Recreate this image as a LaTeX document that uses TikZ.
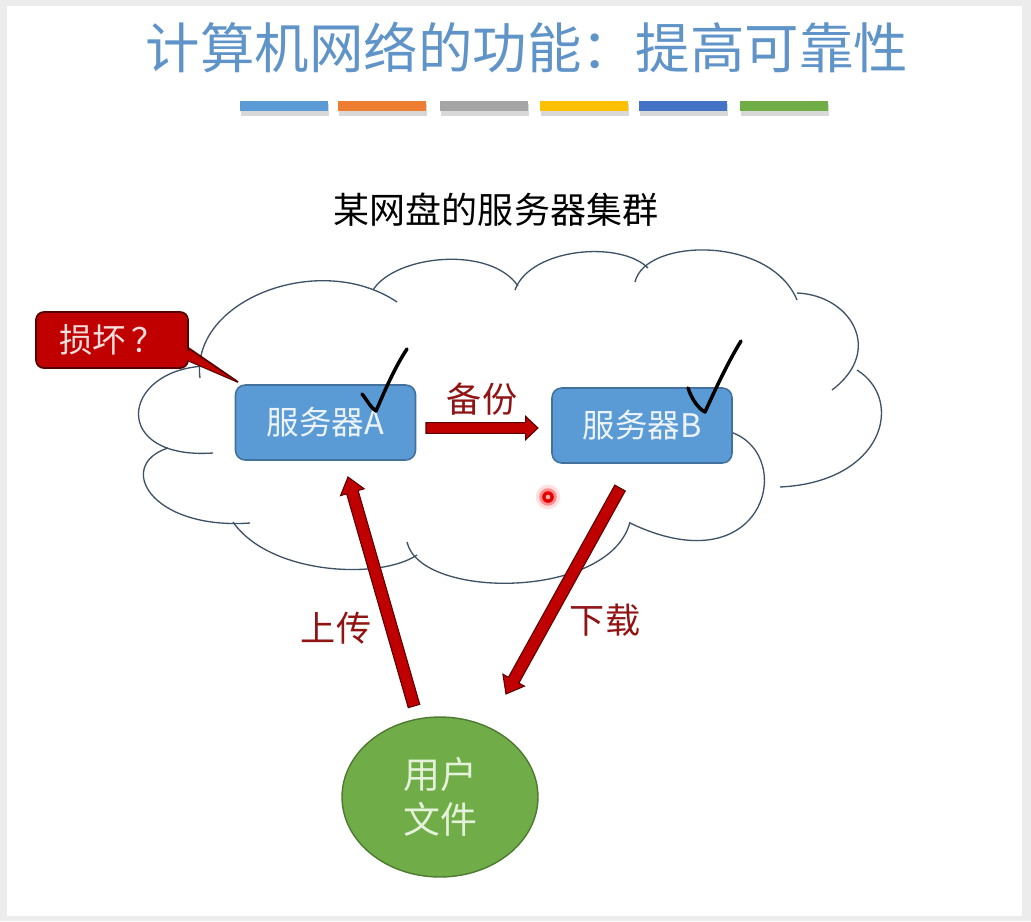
\documentclass[tikz,border=0pt]{standalone}
\usepackage{fontspec}
\setmainfont{Noto Sans CJK SC}
\usetikzlibrary{calc,shapes.geometric}
\definecolor{titleblue}{RGB}{96,148,200}
\definecolor{bar1}{RGB}{91,155,213}
\definecolor{bar2}{RGB}{237,125,49}
\definecolor{bar3}{RGB}{165,165,165}
\definecolor{bar4}{RGB}{255,192,0}
\definecolor{bar5}{RGB}{68,114,196}
\definecolor{bar6}{RGB}{112,173,71}
\definecolor{cloudline}{RGB}{62,82,102}
\definecolor{boxfill}{RGB}{91,155,213}
\definecolor{boxline}{RGB}{65,113,156}
\definecolor{boxtext}{RGB}{236,243,250}
\definecolor{callfill}{RGB}{192,0,0}
\definecolor{callline}{RGB}{85,0,0}
\definecolor{calltext}{RGB}{245,222,220}
\definecolor{arrowline}{RGB}{90,0,0}
\definecolor{labelred}{RGB}{145,20,20}
\definecolor{userfill}{RGB}{112,172,72}
\definecolor{userline}{RGB}{78,122,48}
\definecolor{usertext}{RGB}{228,242,218}
\definecolor{framegray}{RGB}{236,236,236}
\newcommand{\blockarr}[5]{%
  \coordinate (ba-h) at ($(#2)!#5!(#1)$);
  \filldraw[arrowbody] ($(#1)!#3!90:(#2)$) -- ($(ba-h)!#3!90:(#2)$) -- ($(ba-h)!#4!90:(#2)$) -- (#2) -- ($(ba-h)!#4!-90:(#2)$) -- ($(ba-h)!#3!-90:(#2)$) -- ($(#1)!#3!-90:(#2)$) -- cycle;
}
\tikzset{
  titletext/.style={text=titleblue, font=\fontsize{31}{38}\selectfont, inner sep=0pt},
  subtext/.style={text=black, font=\fontsize{20.5}{24}\selectfont, inner sep=0pt},
  cloudarc/.style={draw=cloudline, line width=0.75pt},
  server/.style={rectangle, rounded corners=5.5pt, fill=boxfill, draw=boxline, line width=0.9pt,
    minimum width=3.6cm, minimum height=1.5cm, inner sep=0pt, text=boxtext, font=\fontsize{18.5}{22}\selectfont},
  callbox/.style={rectangle, rounded corners=4.5pt, fill=callfill, draw=callline, line width=1pt,
    minimum width=3.04cm, minimum height=1.12cm, inner sep=0pt, text=calltext, font=\fontsize{19}{22}\selectfont},
  calltail/.style={fill=callfill, draw=callline, line width=1pt, line join=miter},
  checkmark/.style={draw=black, line width=2pt, line cap=round, line join=round},
  arrowbody/.style={fill=callfill, draw=arrowline, line width=0.6pt, line join=miter},
  lbl/.style={text=labelred, font=\fontsize{20}{24}\selectfont, inner sep=0pt},
  userell/.style={ellipse, fill=userfill, draw=userline, line width=0.8pt, minimum width=3.92cm,
    minimum height=3.2cm, inner sep=0pt, align=center, text=usertext, font=\fontsize{21}{26}\selectfont},
}
\begin{document}
\begin{tikzpicture}[x=0.02cm,y=-0.02cm]
\useasboundingbox (0,0) rectangle (1031,921);
\fill[framegray] (0,0) rectangle (1031,921);
\fill[white] (7,6) rectangle (1022,916);

% title and colour bars
\node[titletext] (title) at (527,47) {计算机网络的功能：提高可靠性};
\foreach \x/\c in {240/bar1,338/bar2,440/bar3,540/bar4,639/bar5,740/bar6}{
  \fill[black!15] (\x+1,104) rectangle (\x+89,116);
  \fill[\c] (\x,101) rectangle (\x+88,111);
}

\node[subtext] (sub) at (496,210) {某网盘的服务器集群};

% cloud
\draw[cloudarc] (200,378) .. controls (190,300) and (320,250) .. (397,302);
\draw[cloudarc] (373,290) .. controls (395,255) and (490,245) .. (518,286);
\draw[cloudarc] (515,290) .. controls (530,248) and (620,240) .. (648,268);
\draw[cloudarc] (635,282) .. controls (645,238) and (770,235) .. (797,300);
\draw[cloudarc] (797,293) .. controls (850,295) and (885,350) .. (832,390);
\draw[cloudarc] (857,370) .. controls (905,400) and (884,482) .. (780,487);
\draw[cloudarc] (723,430) .. controls (800,445) and (770,590) .. (630,523);
\draw[cloudarc] (630,522) .. controls (610,600) and (420,600) .. (407,542);
\draw[cloudarc] (417,555) .. controls (380,580) and (270,575) .. (233,522);
\draw[cloudarc] (168,448) .. controls (115,465) and (150,530) .. (250,523);
\draw[cloudarc] (205,366) .. controls (120,370) and (110,460) .. (213,453);

% servers
\node[server] (A) at (325.5,422.5) {服务器A};
\node[server] (B) at (642,425.5) {服务器B};

% check marks
\draw[checkmark] (362,394) .. controls (367,400) and (371,408) .. (376,411) .. controls (385,390) and (395,367) .. (407,349);
\draw[checkmark] (688,388) .. controls (692,400) and (699,409) .. (705,412) .. controls (715,390) and (728,362) .. (741,341);

% callout
\coordinate (dmgtip) at (238,382);
\draw[calltail] (187,347) -- (dmgtip) -- (187,360) -- cycle;
\node[callbox] (dmg) at (112,340) {损坏\,？};
\fill[callfill] (184,348.5) -- (234,380) -- (184,358.5) -- cycle;

% arrows
\coordinate (bk1) at (426,428);
\coordinate (bk2) at (538,428);
\blockarr{bk1}{bk2}{3.1pt}{6.6pt}{7pt}
\coordinate (up1) at (414,706);
\coordinate (up2) at (348,477);
\blockarr{up1}{up2}{3.4pt}{7pt}{9pt}
\coordinate (dn1) at (620,488);
\coordinate (dn2) at (506,694);
\blockarr{dn1}{dn2}{3.4pt}{7pt}{9pt}

% labels
\node[lbl] (lbk) at (482,399) {备份};
\node[lbl] (lup) at (336,628) {上传};
\node[lbl] (ldn) at (605,620) {下载};

% user files
\node[userell] (user) at (440,797) {用户\\文件};

% laser pointer dot
\fill[red!12] (548,497) circle (7pt);
\fill[red!45] (548,497) circle (5pt);
\fill[red!90!black] (548,497) circle (3.3pt);
\fill[red!30!white] (548,497) circle (1.3pt);
\end{tikzpicture}
\end{document}
